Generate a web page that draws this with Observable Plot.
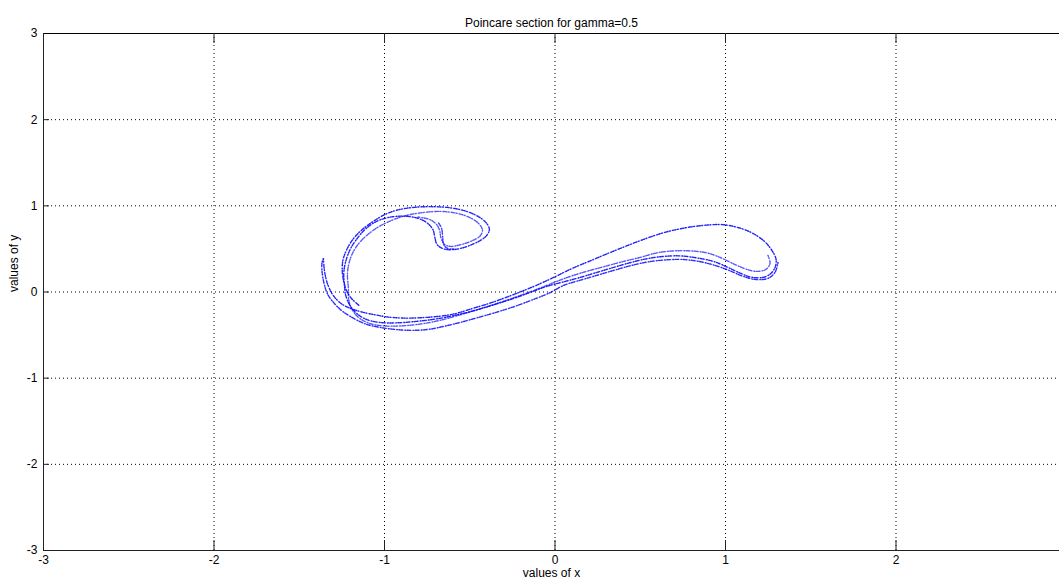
<!DOCTYPE html>
<html>
<head>
<meta charset="utf-8">
<script src="https://cdn.jsdelivr.net/npm/d3@7"></script>
<script src="https://cdn.jsdelivr.net/npm/@observablehq/plot@0.6"></script>
<style>
  html, body { margin: 0; padding: 0; background: #fff; overflow: hidden; }
  #chart svg { display: block; }
</style>
</head>
<body>
<div id="chart"></div>
<script>
// ---- data ----
const titleText = "Poincare section for gamma=0.5";
const xLabel = "values of x";
const yLabel = "values of y";
const xTicks = [-3, -2, -1, 0, 1, 2];
const xTickLabels = ["-3", "-2", "-1", "0", "1", "2"];
const yTicks = [-3, -2, -1, 0, 1, 2, 3];
const yTickLabels = ["-3", "-2", "-1", "0", "1", "2", "3"];
const gridX = [-2, -1, 0, 1, 2];
const gridY = [-2, -1, 0, 1, 2];

// strand 1: left hook (inner side) -> band top -> right lobe top -> lobe inner -> band middle -> outer C spiral
const strandMain = [
  [-1.358,0.384],[-1.351,0.231],[-1.331,0.077],[-1.301,-0.039],[-1.253,-0.136],[-1.194,-0.194],
  [-1.116,-0.240],[-1.037,-0.271],[-0.978,-0.291],[-0.881,-0.303],[-0.783,-0.298],[-0.685,-0.283],
  [-0.587,-0.252],[-0.489,-0.194],[-0.391,-0.136],[-0.294,-0.068],[-0.196,0.007],[-0.097,0.088],
  [-0.002,0.175],[0.108,0.280],[0.206,0.361],[0.304,0.442],[0.402,0.521],[0.519,0.610],
  [0.637,0.688],[0.754,0.741],[0.871,0.773],[0.989,0.781],[1.086,0.741],[1.165,0.676],
  [1.233,0.579],[1.272,0.483],[1.296,0.386],[1.293,0.297],[1.267,0.216],[1.220,0.169],
  [1.145,0.175],[1.077,0.227],[1.008,0.291],[0.930,0.355],[0.832,0.396],[0.734,0.419],
  [0.637,0.413],[0.538,0.386],[0.440,0.340],[0.343,0.285],[0.245,0.227],[0.147,0.169],
  [0.049,0.117],[-0.049,0.065],[-0.137,0.001],[-0.225,-0.063],[-0.342,-0.138],[-0.460,-0.208],
  [-0.577,-0.266],[-0.695,-0.312],[-0.812,-0.341],[-0.930,-0.358],[-1.029,-0.353],[-1.106,-0.318],
  [-1.164,-0.248],[-1.206,-0.144],[-1.229,-0.028],[-1.235,0.077],[-1.247,0.216],[-1.244,0.367],
  [-1.219,0.502],[-1.180,0.625],[-1.125,0.734],[-1.057,0.831],[-0.988,0.908],[-0.910,0.958],
  [-0.812,0.985],[-0.714,0.990],[-0.617,0.978],[-0.538,0.947],[-0.470,0.897],[-0.411,0.819],
  [-0.385,0.734],[-0.397,0.665],[-0.430,0.607],[-0.489,0.549],[-0.548,0.509],[-0.607,0.491],
  [-0.655,0.502],[-0.691,0.549],[-0.705,0.637],[-0.714,0.715],[-0.734,0.773],[-0.773,0.831],
  [-0.831,0.869],[-0.900,0.881],[-0.978,0.865],[-1.047,0.819],[-1.106,0.741],[-1.154,0.637],
  [-1.194,0.521],[-1.223,0.386],[-1.239,0.212],[-1.229,0.050],[-1.200,-0.060],[-1.150,-0.155]
];

// strand 2: right lobe inner (faint) -> band lower-middle -> inner C spiral
const strandSecond = [
  [1.249,0.425],[1.261,0.332],[1.237,0.262],[1.184,0.239],[1.126,0.262],[1.048,0.326],
  [0.969,0.401],[0.891,0.454],[0.793,0.477],[0.695,0.477],[0.597,0.454],[0.499,0.401],
  [0.402,0.355],[0.304,0.303],[0.206,0.251],[0.108,0.193],[0.010,0.123],[-0.078,0.053],
  [-0.196,-0.034],[-0.313,-0.115],[-0.430,-0.190],[-0.548,-0.260],[-0.665,-0.324],[-0.783,-0.370],
  [-0.900,-0.393],[-1.006,-0.393],[-1.088,-0.364],[-1.153,-0.295],[-1.194,-0.190],[-1.211,-0.074],
  [-1.211,0.019],[-1.217,0.227],[-1.200,0.390],[-1.164,0.529],[-1.111,0.645],[-1.041,0.749],
  [-0.959,0.831],[-0.871,0.889],[-0.771,0.923],[-0.665,0.935],[-0.571,0.912],[-0.501,0.865],
  [-0.448,0.795],[-0.425,0.714],[-0.442,0.645],[-0.495,0.587],[-0.560,0.546],[-0.612,0.529],
  [-0.648,0.552],[-0.668,0.622],[-0.677,0.715],[-0.695,0.785],[-0.736,0.842],[-0.806,0.871]
];

// strand 3: right lobe bottom -> lowest band line -> left hook outer side up to the tip
const strandLower = [
  [1.308,0.343],[1.290,0.227],[1.249,0.158],[1.173,0.146],[1.096,0.187],[1.020,0.251],
  [0.938,0.309],[0.844,0.355],[0.744,0.378],[0.644,0.372],[0.544,0.349],[0.450,0.309],
  [0.345,0.251],[0.245,0.193],[0.145,0.135],[0.051,0.077],[-0.031,-0.010],[-0.156,-0.109],
  [-0.254,-0.179],[-0.352,-0.240],[-0.450,-0.295],[-0.548,-0.349],[-0.646,-0.396],[-0.743,-0.434],
  [-0.841,-0.445],[-0.940,-0.434],[-1.037,-0.407],[-1.116,-0.368],[-1.194,-0.291],[-1.253,-0.213],
  [-1.301,-0.117],[-1.335,-0.020],[-1.354,0.096],[-1.366,0.231],[-1.367,0.332],[-1.360,0.386]
];

// strand 4: extra fold inside the curl of the upper hook
const strandCurl = [
  [-0.595,0.500],[-0.630,0.506],[-0.653,0.552],[-0.659,0.645],[-0.665,0.738],[-0.683,0.802]
];

const strands = [strandMain, strandSecond, strandLower, strandCurl];
const strandShade = [0.85, 0.6, 0.8, 0.75];
const points = strands.flatMap((s, i) => s.map(([x, y]) => ({x, y, strand: i, shade: strandShade[i]})));

const W = 1059, H = 582;
const font = "'Liberation Sans', Arial, Helvetica, sans-serif";
const tickLenX = 10 / 86.2;   // tick length expressed in y units (bottom/top axis)
const tickLenY = 6 / 170.3;   // tick length expressed in x units (left axis)

const chart = Plot.plot({
  width: W,
  height: H,
  marginLeft: 43,
  marginRight: 0,
  marginTop: 33,
  marginBottom: 32,
  style: {fontFamily: font, fontSize: "12px", background: "#fff", color: "#000"},
  x: {domain: [-3, 3], range: [43, 1066]},
  y: {domain: [-3, 3], range: [550, 33]},
  opacity: {type: "identity"},
  marks: [
    // dotted grid
    Plot.ruleX(gridX, {x: d => d, y1: -3, y2: 3, stroke: "#000", strokeDasharray: "1,3", strokeWidth: 1}),
    Plot.ruleY(gridY, {y: d => d, x1: -3, x2: 3, stroke: "#000", strokeDasharray: "1,3", strokeWidth: 1}),
    // the attractor strands (drawn as scattered-looking dotted curves)
    Plot.line(points, {x: "x", y: "y", z: "strand", curve: "catmull-rom", stroke: "#0000ff", strokeWidth: 1.1, strokeOpacity: 0.18}),
    Plot.line(points, {x: "x", y: "y", z: "strand", curve: "catmull-rom", stroke: "#0000ff", strokeWidth: 1.4, strokeOpacity: "shade", strokeDasharray: "1,1.6,0.7,2.4,1.3,1.2"}),
    // axes box (right side is outside the window)
    Plot.ruleY([3], {x1: -3, x2: 3, stroke: "#000", strokeWidth: 1}),
    Plot.ruleY([-3], {x1: -3, x2: 3, stroke: "#222", strokeWidth: 1}),
    Plot.ruleX([-3], {y1: -3, y2: 3, stroke: "#222", strokeWidth: 1}),
    // inward ticks
    Plot.ruleX(xTicks.slice(1), {x: d => d, y1: -3, y2: -3 + tickLenX, stroke: "#222"}),
    Plot.ruleX(xTicks.slice(1), {x: d => d, y1: 3, y2: 3 - tickLenX, stroke: "#222"}),
    Plot.ruleY(yTicks.slice(1, -1), {y: d => d, x1: -3, x2: -3 + tickLenY, stroke: "#222"}),
    // tick labels
    Plot.axisX({ticks: xTicks, tickFormat: (d, i) => xTickLabels[i], tickSize: 0, tickPadding: 5, anchor: "bottom", label: null, fontSize: 12}),
    Plot.axisY({ticks: yTicks, tickFormat: (d, i) => yTickLabels[i], tickSize: 0, tickPadding: 6, anchor: "left", label: null, fontSize: 12}),
    // title and axis labels
    Plot.text([titleText], {frameAnchor: "top", dy: -15, text: d => d, fontSize: 12, fill: "#000"}),
    Plot.text([xLabel], {frameAnchor: "bottom", dy: 26, text: d => d, fontSize: 12, fill: "#000"}),
    Plot.text([yLabel], {frameAnchor: "left", dx: -29, rotate: -90, text: d => d, fontSize: 12, fill: "#000"})
  ]
});
document.getElementById("chart").appendChild(chart);
</script>
</body>
</html>
